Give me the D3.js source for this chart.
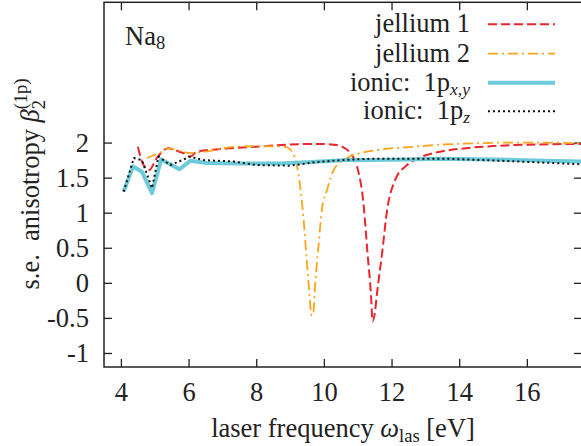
<!DOCTYPE html>
<html>
<head>
<meta charset="utf-8">
<script src="https://cdn.jsdelivr.net/npm/d3@7"></script>
<style>
  body { margin: 0; background: #fff; }
  text { font-family: "Liberation Serif", serif; fill: #222; }
</style>
</head>
<body>
<script>
// jellium 1 (red dashed)
var jel1X = [4.50, 4.67, 4.85, 5.02, 5.41, 5.61, 5.85, 6.05, 6.25, 7.0, 8.0, 8.86, 9.80, 10.3, 10.55, 10.78, 10.98, 11.17, 11.29, 11.39, 11.44, 11.50, 11.57, 11.72, 11.87, 12.11, 12.46, 12.85, 13.44, 14.2, 15.0, 16.0, 17.63];
var jel1Y = [1.94, 1.68, 1.61, 1.75, 1.92, 1.89, 1.85, 1.80, 1.87, 1.91, 1.94, 1.97, 1.98, 1.97, 1.94, 1.85, 1.66, 1.13, 0.42, -0.15, -0.55, -0.45, -0.15, 0.42, 1.04, 1.47, 1.68, 1.79, 1.87, 1.92, 1.95, 1.97, 1.98];
// jellium 2 (orange dash-dot)
var jel2X = [4.77, 5.21, 5.42, 5.61, 6.05, 6.49, 7.33, 8.0, 8.86, 9.06, 9.20, 9.30, 9.40, 9.50, 9.58, 9.63, 9.68, 9.75, 9.84, 9.94, 10.09, 10.29, 10.68, 11.08, 11.67, 12.65, 13.44, 14.5, 15.5, 16.5, 17.63];
var jel2Y = [1.78, 1.87, 1.92, 1.90, 1.85, 1.87, 1.94, 1.95, 1.94, 1.87, 1.68, 1.37, 0.90, 0.28, -0.20, -0.46, -0.46, 0.04, 0.52, 1.04, 1.32, 1.61, 1.78, 1.85, 1.90, 1.94, 1.97, 1.99, 2.0, 2.0, 1.99];
// ionic 1p_{x,y} (thick cyan)
var ionXYX = [4.08, 4.36, 4.62, 4.92, 5.19, 5.73, 6.05, 6.54, 7.5, 8.71, 9.5, 10.68, 11.4, 12.5, 13.44, 15.0, 16.5, 17.63];
var ionXYY = [1.30, 1.66, 1.585, 1.28, 1.76, 1.62, 1.74, 1.71, 1.70, 1.70, 1.72, 1.75, 1.75, 1.76, 1.77, 1.76, 1.74, 1.73];
// ionic 1p_z (black dotted)
var ionZX = [4.08, 4.38, 4.62, 4.92, 5.11, 5.46, 5.81, 6.05, 6.44, 7.33, 8.02, 9.0, 9.74, 10.5, 11.4, 12.5, 13.6, 14.7, 15.76, 17.63];
var ionZY = [1.30, 1.78, 1.75, 1.35, 1.80, 1.68, 1.75, 1.80, 1.75, 1.73, 1.68, 1.67, 1.72, 1.75, 1.77, 1.77, 1.77, 1.75, 1.73, 1.69];

var xTicks = [4, 6, 8, 10, 12, 14, 16];
var yTicks = [-1, -0.5, 0, 0.5, 1, 1.5, 2];

var width = 581, height = 446;
var pLeft = 104, pRight = 582, pTop = 2.3, pBottom = 367;
var fs = 26.5;

var svg = d3.select("body").append("svg")
    .attr("width", width)
    .attr("height", height);

var x = d3.scaleLinear().domain([3.5, 17.63]).range([pLeft, pRight]);
var y = d3.scaleLinear().domain([-1.2, 4.0]).range([pBottom, pTop]);

// axes, ticks inside like gnuplot
var tl = 8;
svg.append("g").attr("transform", "translate(0," + pBottom + ")")
    .call(d3.axisBottom(x).tickValues(xTicks).tickSizeInner(-tl).tickSizeOuter(0).tickPadding(15));
svg.append("g").attr("transform", "translate(0," + pTop + ")")
    .call(d3.axisTop(x).tickValues(xTicks).tickSizeInner(-tl).tickSizeOuter(0).tickFormat(""));
svg.append("g").attr("transform", "translate(" + pLeft + ",0)")
    .call(d3.axisLeft(y).tickValues(yTicks).tickSizeInner(-tl).tickSizeOuter(0).tickPadding(15)
        .tickFormat(d => d < 0 ? "-" + (-d) : "" + d));
svg.append("g").attr("transform", "translate(" + pRight + ",0)")
    .call(d3.axisRight(y).tickValues(yTicks).tickSizeInner(-tl).tickSizeOuter(0).tickFormat(""));

svg.selectAll(".domain").remove();
svg.selectAll(".tick line").attr("stroke", "#222").attr("stroke-width", 1.3);
svg.selectAll(".tick text").style("font-family", "Liberation Serif").style("font-size", fs + "px").attr("fill", "#222");

svg.append("rect")
    .attr("x", pLeft).attr("y", pTop)
    .attr("width", pRight - pLeft).attr("height", pBottom - pTop)
    .attr("fill", "none").attr("stroke", "#222").attr("stroke-width", 1.5);

// series
var series = [
  { xs: jel1X, ys: jel1Y, color: "#e8262c", w: 2, dash: "9,4", curve: d3.curveMonotoneX },
  { xs: jel2X, ys: jel2Y, color: "#fba41c", w: 1.8, dash: "10,4,2,4", curve: d3.curveMonotoneX },
  { xs: ionXYX, ys: ionXYY, color: "#6ccadb", w: 4, dash: null, curve: d3.curveLinear },
  { xs: ionZX, ys: ionZY, color: "#111", w: 2, dash: "2,3", curve: d3.curveLinear }
];

var plot = svg.append("g");
plot.append("clipPath").attr("id", "clip").append("rect")
    .attr("x", pLeft).attr("y", pTop).attr("width", pRight - pLeft).attr("height", pBottom - pTop);

series.forEach(function (s) {
    var pts = s.xs.map((v, i) => [v, s.ys[i]]);
    var line = d3.line().x(d => x(d[0])).y(d => y(d[1])).curve(s.curve);
    plot.append("path")
        .attr("d", line(pts))
        .attr("clip-path", "url(#clip)")
        .attr("fill", "none")
        .attr("stroke", s.color)
        .attr("stroke-width", s.w)
        .attr("stroke-dasharray", s.dash)
        .attr("stroke-linejoin", "round");
});

// legend
var legX = 470, sampleX0 = 488, sampleX1 = 555;
var legRows = [32.3, 61.7, 90.7, 119.3];
var legend = svg.append("g");
legRows.forEach(function (by, i) {
    var s = series[i];
    legend.append("line")
        .attr("x1", sampleX0).attr("x2", sampleX1)
        .attr("y1", by - 8).attr("y2", by - 8)
        .attr("stroke", s.color).attr("stroke-width", s.w)
        .attr("stroke-dasharray", s.dash);
});
function legText(by) {
    return legend.append("text").attr("x", legX).attr("y", by)
        .attr("text-anchor", "end").style("font-size", fs + "px");
}
legText(legRows[0]).text("jellium 1");
legText(legRows[1]).text("jellium 2");
var t3 = legText(legRows[2]);
t3.append("tspan").text("ionic:\u00a0\u00a01p");
t3.append("tspan").attr("font-style", "italic").attr("font-size", fs * 0.66).attr("dy", 4).text("x,y");
var t4 = legText(legRows[3]);
t4.append("tspan").text("ionic:\u00a0\u00a01p");
t4.append("tspan").attr("font-style", "italic").attr("font-size", fs * 0.66).attr("dy", 4).text("z");

// Na8 label
var na = svg.append("text").attr("x", 125).attr("y", 44.5).style("font-size", fs + "px");
na.append("tspan").text("Na");
na.append("tspan").attr("font-size", fs * 0.7).attr("dy", 4).text("8");

// x label
var xl = svg.append("text").attr("x", 343).attr("y", 437).attr("text-anchor", "middle").style("font-size", fs + "px");
xl.append("tspan").text("laser frequency ");
xl.append("tspan").attr("font-style", "italic").text("ω");
xl.append("tspan").attr("font-size", fs * 0.7).attr("dy", 5).text("las");
xl.append("tspan").attr("dy", -5).text("\u00a0[eV]");

// y label
var yl = svg.append("text")
    .attr("transform", "translate(38.5,184) rotate(-90)")
    .attr("text-anchor", "middle").style("font-size", fs + "px");
yl.append("tspan").text("s.e.\u00a0\u00a0anisotropy ");
yl.append("tspan").attr("font-style", "italic").text("β");
yl.append("tspan").attr("font-size", fs * 0.7).attr("dy", 6).text("2");
yl.append("tspan").attr("font-size", fs * 0.7).attr("dx", -fs * 0.35).attr("dy", -18).text("(1p)");
</script>
</body>
</html>
